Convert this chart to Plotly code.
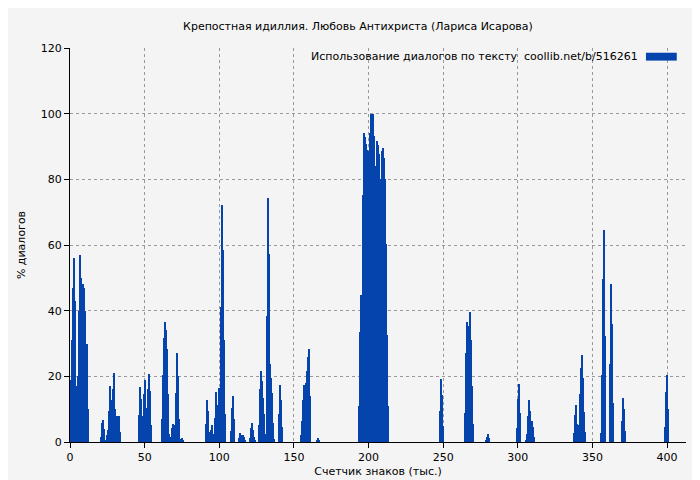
import plotly.graph_objects as go

step = 0.67
c_starts = [0.5, 20.5, 46.0, 61.6, 91.1, 108.0, 113.2, 120.6, 126.6, 140.0, 154.8, 165.5,
            193.6, 247.9, 264.7, 278.7, 299.5, 305.5, 337.7, 355.8, 361.8, 369.9, 398.7]
c_vals = [
    [19, 31, 47, 56, 43, 17, 17, 20, 40, 57, 50, 39, 48, 47, 40, 30, 30, 10],
    [1.5, 5.7, 6.8, 4, 0, 0.5, 2, 3.6, 9.4, 17, 12.9, 4.3, 16, 21, 10, 8, 5.4, 8, 8, 3],
    [8.3, 16.8, 13, 8, 5.6, 14.6, 19, 10.4, 9, 16, 20.7, 15.6, 5.3],
    [7, 20.4, 31.6, 36.5, 34, 28.4, 14.6, 2.3, 0.8, 1.6, 4.3, 5.6, 5.3, 4.6, 15, 27, 20, 7, 0, 1, 1.3, 0.5],
    [5.4, 12.8, 9.5, 3, 1.2, 3.8, 5.3, 2.5, 0, 7.3, 15.2, 11.4, 7.9, 16.3, 14.6, 41, 72.3, 58.6, 31, 8.5],
    [3.5, 10.4, 14.1, 7.1],
    [1.2, 2.7, 2, 1, 2.2, 1.6, 0.4],
    [1.2, 4.3, 5.9, 3.8, 1.4, 0.4],
    [5.3, 16, 21.6, 18.7, 13.3, 8.5, 2.5, 2.5, 38.5, 74.3, 57.3, 23.8, 19.5, 15, 5.9, 0.8],
    [8.5, 17.5, 12.9, 4.5],
    [2.2, 6.5, 12.9, 17.5, 17.3, 18, 21.7, 25.9, 28.2, 14],
    [0.4, 1.2, 0.4],
    [11.1, 33.5, 44.7, 38.2, 75.3, 94, 92.9, 90.9, 89, 87, 88.5, 94, 100, 100, 100, 93.3, 83.5, 84,
     91.8, 90.5, 87.8, 72, 80, 88.5, 89.6, 86.5, 80, 60.4, 32.7, 10.9],
    [9.3, 19.2, 14.4, 4.8],
    [8.8, 27.1, 36.6, 29.6, 35.3, 39.6, 31, 17, 5.5],
    [0.4, 1.4, 2.4, 1.2],
    [4.2, 13, 17.7, 8.8],
    [0.7, 2.4, 8, 12.8, 9.4, 3, 6.3, 4.6, 1.5],
    [2.8, 8.1, 11.2, 5.5, 0, 5.2, 14.6, 22.6, 26.6, 19.5, 9.2, 3.1],
    [2.8, 20.5, 49.6, 64.6, 32.4],
    [23.8, 48.1, 35.9, 11.9],
    [6.5, 13.4, 10.1, 3.5],
    [4.7, 15.3, 20.5, 10.1],
]

xs, ys = [], []
for s, vals in zip(c_starts, c_vals):
    for i, v in enumerate(vals):
        xs.append(s + i * step)
        ys.append(v)

blue = "#0544ad"
font = "DejaVu Sans"
fig = go.Figure(go.Bar(x=xs, y=ys, width=step, marker=dict(color=blue, line=dict(width=0))))

fig.update_layout(
    width=700, height=480,
    margin=dict(l=62, r=22, t=40, b=46),
    paper_bgcolor="#f4f4f4", plot_bgcolor="#f4f4f4",
    font=dict(family=font, size=11, color="#000"),
    showlegend=False,
    title=dict(text="Крепостная идиллия. Любовь Антихриста (Лариса Исарова)",
               x=0.5, xanchor="center", y=0.962, yanchor="middle", font=dict(size=11)),
    bargap=0,
)
axis_common = dict(showline=True, linecolor="#000", linewidth=1, ticks="outside", ticklen=5,
                   tickcolor="#000", showgrid=True, gridcolor="#999", griddash="dot",
                   gridwidth=1, zeroline=False, mirror=False, automargin=False,
                   tickfont=dict(size=11))
fig.update_xaxes(range=[0, 412.7], tickvals=[0, 50, 100, 150, 200, 250, 300, 350, 400],
                 title=dict(text="Счетчик знаков (тыс.)", standoff=4, font=dict(size=11)), **axis_common)
fig.update_yaxes(range=[0, 120], tickvals=[0, 20, 40, 60, 80, 100, 120],
                 title=dict(text="% диалогов", standoff=12, font=dict(size=11)), **axis_common)

fig.add_annotation(xref="paper", yref="paper", x=0.925, y=0.978, xanchor="right", yanchor="middle",
                   text="Использование диалогов по тексту  coollib.net/b/516261", showarrow=False,
                   font=dict(size=11))
fig.add_shape(type="rect", xref="paper", yref="paper", x0=0.935, x1=0.985, y0=0.968, y1=0.988,
              fillcolor=blue, line=dict(width=0))

fig.write_html("out.html")
